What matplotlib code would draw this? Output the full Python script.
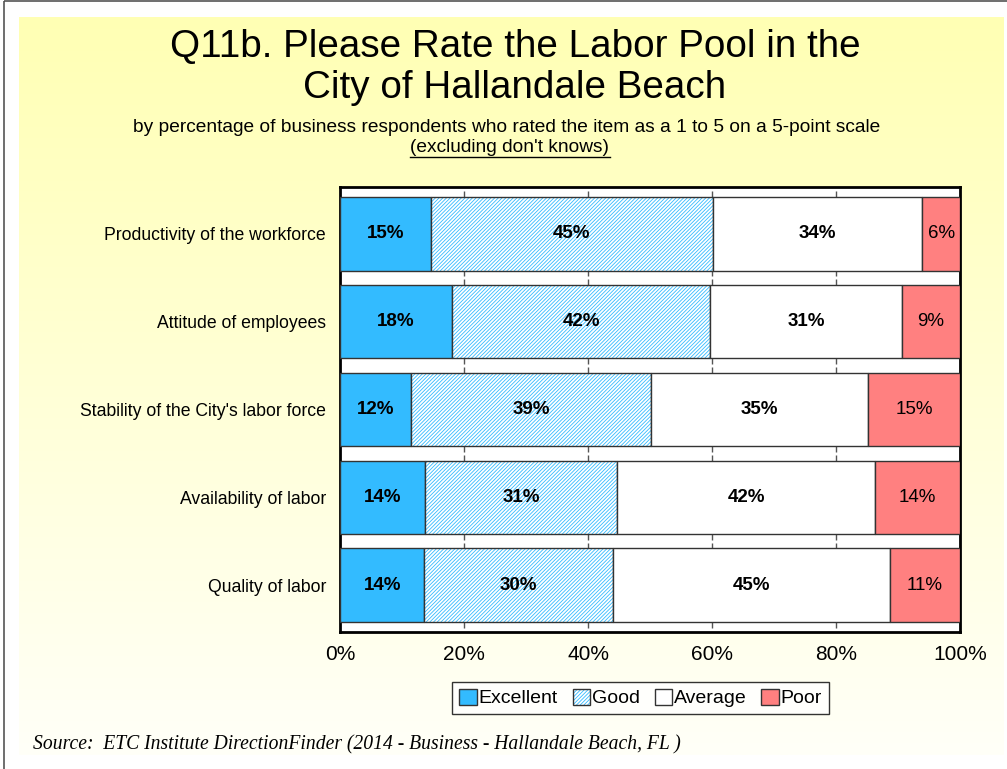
import matplotlib
matplotlib.use('Agg')
import matplotlib.pyplot as plt
import numpy as np
from matplotlib.patches import Rectangle, Patch
from matplotlib.legend_handler import HandlerTuple

# Survey results (percent)
categories = ['Productivity of the workforce', 'Attitude of employees',
              "Stability of the City's labor force", 'Availability of labor',
              'Quality of labor']
excellent = [14.7, 18.1, 11.5, 13.7, 13.6]
good = [45.4, 41.6, 38.6, 31.0, 30.4]
average = [33.8, 30.9, 35.1, 41.6, 44.7]
poor = [6.1, 9.4, 14.8, 13.7, 11.3]
series_names = ['Excellent', 'Good', 'Average', 'Poor']
x_ticks = [0, 20, 40, 60, 80, 100]

plt.rcParams['font.family'] = ['Liberation Sans', 'DejaVu Sans']
plt.rcParams['hatch.linewidth'] = 0.6

W, H = 1007, 769
fig = plt.figure(figsize=(W / 100, H / 100), dpi=100)
fig.patch.set_facecolor('white')

# outer frame and yellow gradient panel
bg = fig.add_axes([0, 0, 1, 1], zorder=-10)
bg.set_xlim(0, W)
bg.set_ylim(H, 0)
bg.axis('off')
grad = np.linspace(0, 1, 256).reshape(-1, 1)
top = np.array([255, 255, 180]) / 255
bot = np.array([255, 255, 248]) / 255
img = top[None, None, :] * (1 - grad[:, :, None]) + bot[None, None, :] * grad[:, :, None]
bg.imshow(img, extent=[19, 1004, 755, 17], aspect='auto', zorder=0)
bg.add_patch(Rectangle((4, 1), 1010, 800, fill=False, edgecolor='#555555',
                       linewidth=1.2, zorder=1))

ax = fig.add_axes([340 / W, 1 - 632 / H, 620 / W, 445 / H])
ax.set_facecolor('white')

blue = '#33bbff'
red = '#ff8080'
edge = '#333333'
hatch = '/////////'
y = np.arange(len(categories))
h = 0.84

left = np.zeros(len(categories))
b1 = ax.barh(y, excellent, h, left=left, color=blue, edgecolor=edge,
             linewidth=1, zorder=3)
left += excellent
ax.barh(y, good, h, left=left, color='white', edgecolor=blue,
        linewidth=0, hatch=hatch, zorder=3)
b2 = ax.barh(y, good, h, left=left, fill=False, edgecolor=edge,
             linewidth=1, zorder=3)
left += good
b3 = ax.barh(y, average, h, left=left, color='white', edgecolor=edge,
             linewidth=1, zorder=3)
left += average
b4 = ax.barh(y, poor, h, left=left, color=red, edgecolor=edge,
             linewidth=1, zorder=3)

for bars, vals, wt in [(b1, excellent, 'bold'), (b2, good, 'bold'),
                       (b3, average, 'bold'), (b4, poor, 'normal')]:
    ax.bar_label(bars, labels=['%.0f%%' % v for v in vals], label_type='center',
                 fontsize=13.5, fontweight=wt, color='black', zorder=5)

ax.set_xlim(0, 100)
ax.set_ylim(len(categories) - 0.47, -0.53)

# short gridline stubs visible in the gaps between bars
stub = 0.065
for xt in x_ticks[1:-1]:
    for i in range(len(categories)):
        ax.vlines(xt, i - h / 2 - stub, i - h / 2, color='#555555', linewidth=1, zorder=1)
        ax.vlines(xt, i + h / 2, i + h / 2 + stub, color='#555555', linewidth=1, zorder=1)

ax.set_xticks(x_ticks)
ax.set_xticklabels(['%d%%' % t for t in x_ticks], fontsize=15)
ax.set_yticks(y)
ax.set_yticklabels(categories, fontsize=12.7)
ax.tick_params(axis='y', length=0, pad=10)
ax.tick_params(axis='x', length=0, pad=9)
for s in ax.spines.values():
    s.set_linewidth(2)
    s.set_color('black')

handles = [Patch(facecolor=blue, edgecolor=edge),
           (Patch(facecolor='white', edgecolor=blue, hatch=hatch, linewidth=0),
            Patch(fill=False, edgecolor=edge)),
           Patch(facecolor='white', edgecolor=edge),
           Patch(facecolor=red, edgecolor=edge)]
leg = ax.legend(handles, series_names, loc='upper center',
                bbox_to_anchor=(0.485, -0.112), ncol=4,
                handler_map={tuple: HandlerTuple(ndivide=1, pad=0)},
                frameon=True, fancybox=False, edgecolor='black', fontsize=14,
                handlelength=0.9, handleheight=0.9, handletextpad=0.1,
                columnspacing=0.75, borderpad=0.35, borderaxespad=0)
leg.get_frame().set_linewidth(1)

fig.text(515 / W, 1 - 47 / H, 'Q11b. Please Rate the Labor Pool in the',
         ha='center', va='center', fontsize=27.8)
fig.text(515 / W, 1 - 88 / H, 'City of Hallandale Beach',
         ha='center', va='center', fontsize=27.8)
fig.text(507 / W, 1 - 127 / H,
         'by percentage of business respondents who rated the item as a 1 to 5 on a 5-point scale',
         ha='center', va='center', fontsize=13.8)
fig.text(510 / W, 1 - 148 / H, "(excluding don't knows)",
         ha='center', va='center', fontsize=13.8)
# underline
bg.plot([410, 610], [157, 157], color='black', linewidth=1, zorder=2)

fig.text(33 / W, 1 - 745 / H,
         'Source:  ETC Institute DirectionFinder (2014 - Business - Hallandale Beach, FL )',
         ha='left', va='center', fontsize=14.1, style='italic',
         family=['Liberation Serif', 'DejaVu Serif'])

fig.savefig('out.png', dpi=100)
